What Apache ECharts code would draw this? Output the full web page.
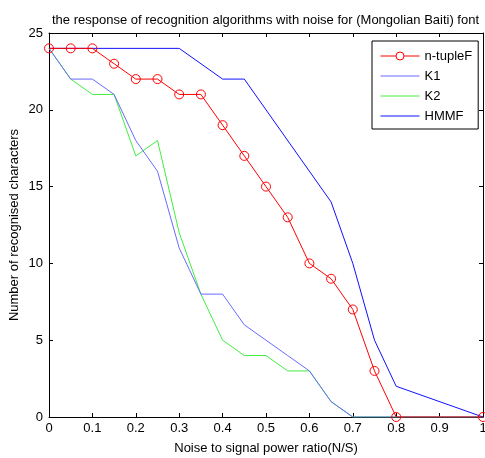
<!DOCTYPE html>
<html><head><meta charset="utf-8">
<script src="https://cdn.jsdelivr.net/npm/echarts@6/dist/echarts.min.js"></script>
<style>html,body{margin:0;padding:0;background:#fff}#c{width:485px;height:458px}</style>
</head><body><div id="c"></div>
<script>
const titleText = 'the response of recognition algorithms with noise for (Mongolian Baiti) font';
const xName = 'Noise to signal power ratio(N/S)';
const yName = 'Number of recognised characters';
const xTicks = [0,0.1,0.2,0.3,0.4,0.5,0.6,0.7,0.8,0.9,1];
const yTicks = [0,5,10,15,20,25];

const ntupleX = [0,0.05,0.1,0.15,0.2,0.25,0.3,0.35,0.4,0.45,0.5,0.55,0.6,0.65,0.7,0.75,0.8,1];
const ntupleY = [24,24,24,23,22,22,21,21,19,17,15,13,10,9,7,3,0,0];
const k1X = [0,0.05,0.1,0.15,0.2,0.25,0.3,0.35,0.4,0.45,0.5,0.55,0.6,0.65,0.7,1];
const k1Y = [24,22,22,21,18,16,11,8,8,6,5,4,3,1,0,0];
const k2X = [0,0.05,0.1,0.15,0.2,0.25,0.3,0.35,0.4,0.45,0.5,0.55,0.6,0.65,0.7,1];
const k2Y = [24,22,21,21,17,18,12,8,5,4,4,3,3,1,0,0];
const hmmfX = [0,0.3,0.4,0.45,0.65,0.7,0.75,0.8,1];
const hmmfY = [24,24,22,22,14,10,5,2,0];

const pairs = (xs, ys) => xs.map((x, i) => [x, ys[i]]);
const font = 'Liberation Sans, Arial, sans-serif';
const noSym = {color:'transparent', borderColor:'transparent', borderWidth:0};

const chart = echarts.init(document.getElementById('c'));
const baseX = {type:'value', min:0, max:1, interval:0.1,
  axisLine:{show:true, onZero:false, lineStyle:{color:'#000', width:1}},
  axisTick:{show:true, inside:true, length:4, lineStyle:{color:'#000'}},
  splitLine:{show:false}};
const baseY = {type:'value', min:0, max:25, interval:5,
  axisLine:{show:true, onZero:false, lineStyle:{color:'#000', width:1}},
  axisTick:{show:true, inside:true, length:4, lineStyle:{color:'#000'}},
  splitLine:{show:false}};

chart.setOption({
  animation:false,
  backgroundColor:'#fff',
  title:{text:titleText, left:47, top:9,
    textStyle:{fontFamily:font, fontSize:13, fontWeight:'normal', color:'#000'}},
  grid:{left:49, right:2, top:33, bottom:41, containLabel:false, outerBoundsMode:'none'},
  legend:{orient:'vertical', left:372, top:41,
    padding:[8,6,6,8], itemGap:6, itemWidth:39, itemHeight:10,
    borderColor:'#000', borderWidth:1, backgroundColor:'#fff',
    lineStyle:{width:1},
    textStyle:{fontFamily:font, fontSize:13, color:'#000', lineHeight:14},
    data:[
      {name:'n-tupleF', itemStyle:{color:'#fff', borderColor:'#ff0000', borderWidth:1}},
      {name:'K1', itemStyle:noSym},
      {name:'K2', itemStyle:noSym},
      {name:'HMMF', itemStyle:noSym}
    ]},
  xAxis:[
    Object.assign({}, baseX, {position:'bottom', name:xName, nameLocation:'middle', nameGap:25,
      nameTextStyle:{fontFamily:font, fontSize:13, color:'#000'},
      axisLabel:{fontFamily:font, fontSize:13, color:'#000', margin:5,
        formatter:v => xTicks.includes(Math.round(v*10)/10) ? String(Math.round(v*10)/10) : ''}}),
    Object.assign({}, baseX, {position:'top', axisLabel:{show:false}})
  ],
  yAxis:[
    Object.assign({}, baseY, {position:'left', name:yName, nameLocation:'middle', nameGap:28,
      nameMoveOverlap:false,
      nameTextStyle:{fontFamily:font, fontSize:13, color:'#000'},
      axisLabel:{fontFamily:font, fontSize:13, color:'#000', margin:6,
        formatter:v => yTicks.includes(v) ? String(v) : ''}}),
    Object.assign({}, baseY, {position:'right', axisLabel:{show:false}})
  ],
  series:[
    {name:'n-tupleF', type:'line', data:pairs(ntupleX, ntupleY), symbol:'circle', symbolSize:9,
      lineStyle:{color:'#ff0000', width:1}, itemStyle:{color:'transparent', borderColor:'#ff0000', borderWidth:1},
      color:'#ff0000', z:5},
    {name:'K1', type:'line', data:pairs(k1X, k1Y), symbol:'none',
      lineStyle:{color:'#6a6aff', width:1}, itemStyle:{color:'#6a6aff'}, color:'#6a6aff', z:3},
    {name:'K2', type:'line', data:pairs(k2X, k2Y), symbol:'none',
      lineStyle:{color:'#40ee40', width:1}, itemStyle:{color:'#40ee40'}, color:'#40ee40', z:2},
    {name:'HMMF', type:'line', data:pairs(hmmfX, hmmfY), symbol:'none',
      lineStyle:{color:'#1010ff', width:1}, itemStyle:{color:'#1010ff'}, color:'#1010ff', z:4}
  ]
});
</script></body></html>
